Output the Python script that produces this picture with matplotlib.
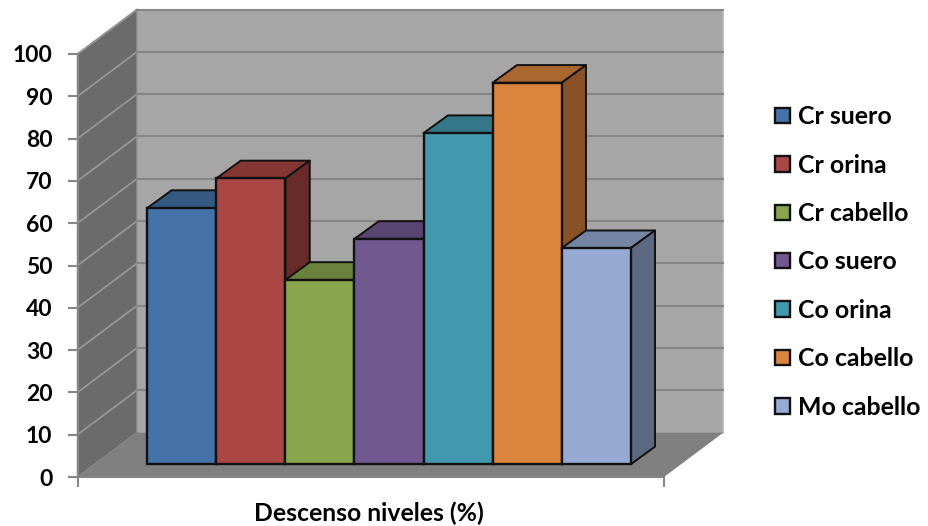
import matplotlib
matplotlib.use('AGG')
from matplotlib import pyplot as plt
from matplotlib.patches import Polygon
from matplotlib.colors import to_rgb

# chart data
labels = ['Cr suero', 'Cr orina', 'Cr cabello', 'Co suero', 'Co orina', 'Co cabello', 'Mo cabello']
values = [60.6, 67.6, 43.6, 53.3, 78.3, 90.2, 51.1]
colors = ['#4572A7', '#AA4643', '#89A54E', '#71588F', '#4198AF', '#DB843D', '#96AAD2']
y_ticks = list(range(0, 101, 10))

# box depth, in axis units
WALL_DX = 0.86
WALL_DY = 10.5
BAR_DX = 0.352
BAR_DY = 4.18
BAR_BASE = 3.0
XMIN = -1.511
XMAX = 6.982

GRID = '#868686'
font = 'Lato'


def shade(color, k):
    return tuple(c * k for c in to_rgb(color))


def poly(ax, pts, face, edge='none', lw=0, z=1):
    ax.add_patch(Polygon(pts, closed=True, facecolor=face, edgecolor=edge,
                         linewidth=lw, clip_on=False, zorder=z, joinstyle='round'))


fig = plt.figure(figsize=(9.29, 5.26), dpi=100)
ax = fig.add_axes([77.5 / 929, 49 / 526, 586.5 / 929, 423 / 526])
ax.set_xlim(XMIN, XMAX)
ax.set_ylim(0, 100)
ax.patch.set_visible(False)

# walls and floor
poly(ax, [(XMIN + WALL_DX, WALL_DY), (XMAX + WALL_DX, WALL_DY),
          (XMAX + WALL_DX, 100 + WALL_DY), (XMIN + WALL_DX, 100 + WALL_DY)],
     '#A6A6A6', edge='#B4B4B4', lw=1.2, z=1)
poly(ax, [(XMIN, 0), (XMIN + WALL_DX, WALL_DY),
          (XMIN + WALL_DX, 100 + WALL_DY), (XMIN, 100)],
     '#6B6B6B', edge='#8C8C8C', lw=1.0, z=1)
poly(ax, [(XMIN, 0), (XMAX, 0), (XMAX + WALL_DX, WALL_DY), (XMIN + WALL_DX, WALL_DY)],
     '#808080', z=2)

# gridlines run along the side wall and the back wall
for v in y_ticks[1:]:
    ax.plot([XMIN, XMIN + WALL_DX], [v, v + WALL_DY], color='#979797', lw=1.3,
            clip_on=False, zorder=2)
    ax.plot([XMIN + WALL_DX, XMAX + WALL_DX], [v + WALL_DY, v + WALL_DY], color=GRID,
            lw=1.5, clip_on=False, zorder=2)

# bars, left to right so each front covers the previous side
xs = list(range(len(values)))
bars = ax.bar(xs, values, width=1.0, bottom=BAR_BASE, color=colors, edgecolor='#111111',
              linewidth=1.7, zorder=3)
for i, (x, v, c) in enumerate(zip(xs, values, colors)):
    top = BAR_BASE + v
    left, right = x - 0.5, x + 0.5
    z = 3 + i * 0.1
    poly(ax, [(left, top), (right, top), (right + BAR_DX, top + BAR_DY), (left + BAR_DX, top + BAR_DY)],
         shade(c, 0.78), edge='#111111', lw=1.4, z=z)
    poly(ax, [(right, BAR_BASE), (right + BAR_DX, BAR_BASE + BAR_DY),
              (right + BAR_DX, top + BAR_DY), (right, top)],
         shade(c, 0.62), edge='#111111', lw=1.4, z=z)
    bars[i].set_zorder(z + 0.05)

# axes
for side in ['top', 'right']:
    ax.spines[side].set_visible(False)
for side in ['left', 'bottom']:
    ax.spines[side].set_color(GRID)
    ax.spines[side].set_linewidth(1.5)
    ax.spines[side].set_zorder(2.5)
ax.set_yticks(y_ticks)
ax.set_yticklabels([str(v) for v in y_ticks], fontfamily=font, fontweight='bold', fontsize=16.5)
ax.set_xticks([XMIN, XMAX])
ax.set_xticklabels(['', ''])
ax.tick_params(axis='both', length=7, width=1.5, color=GRID)
ax.tick_params(axis='y', pad=11)
ax.set_xlabel('Descenso niveles (%)', fontfamily=font, fontweight='bold', fontsize=17.8,
              labelpad=7, x=0.4966)

leg = ax.legend(bars, labels, loc='center left', bbox_to_anchor=(775.5 / 929, 264 / 526),
                bbox_transform=fig.transFigure, frameon=False, handlelength=0.6,
                handleheight=0.58, handletextpad=0.32, labelspacing=1.02, borderpad=0,
                borderaxespad=0, prop={'family': font, 'weight': 'bold', 'size': 17.9})
leg.set_zorder(10)

plt.savefig('out.png', dpi=100)
